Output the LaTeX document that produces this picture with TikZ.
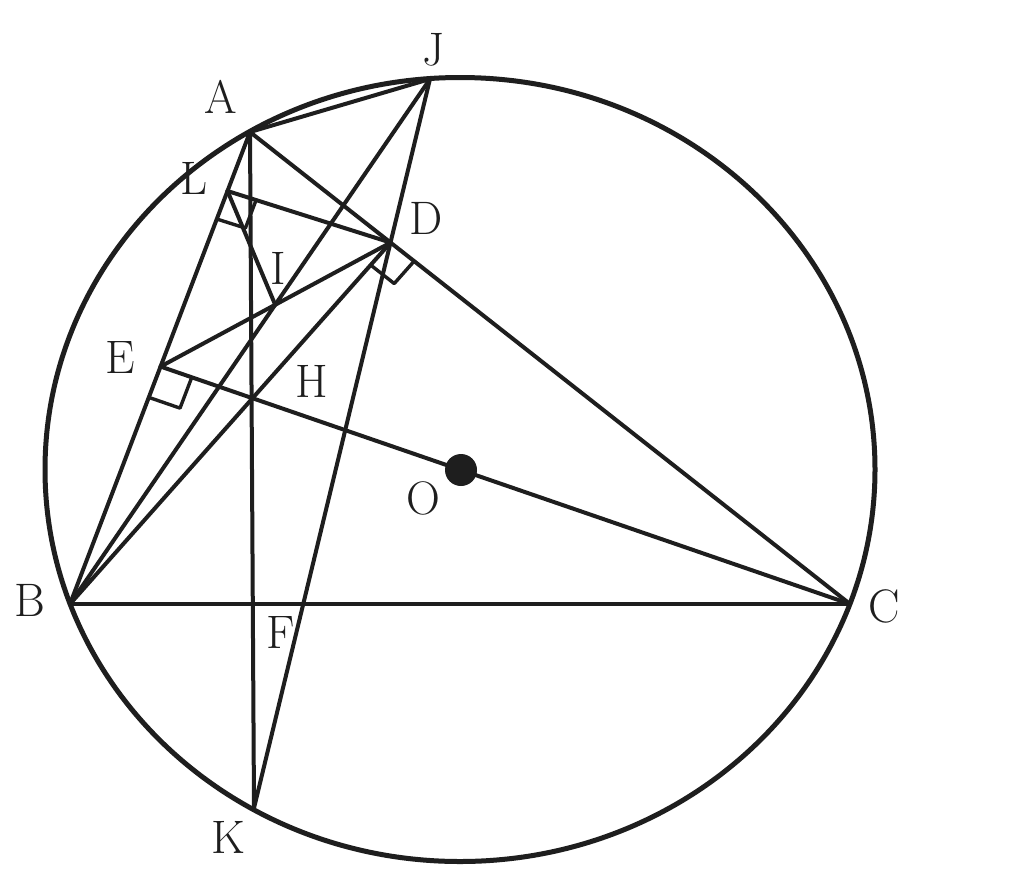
\documentclass[tikz,border=0pt]{standalone}
\usetikzlibrary{calc}
\definecolor{ink}{RGB}{30,30,30}
\begin{document}
\begin{tikzpicture}[x=1pt,y=-1pt,line join=round,line cap=round,
  seg/.style={draw=ink,line width=4pt},
  rtmark/.style={draw=ink,line width=3.4pt},
  lbl/.style={inner sep=0pt,text=ink,font=\fontsize{47}{47}\selectfont}]
\useasboundingbox (0,0) rectangle (1024,879);
\fill[white] (0,0) rectangle (1024,879);
% points
\coordinate (A) at (250,132);
\coordinate (J) at (430,79);
\coordinate (B) at (70,604);
\coordinate (C) at (850,604);
\coordinate (K) at (254,808);
\coordinate (O) at (461,470);
\coordinate (D) at (intersection of A--C and J--K);
\coordinate (E) at (intersection of A--B and C--O);
\coordinate (H) at (intersection of A--K and C--E);
\coordinate (I) at (intersection of B--J and D--E);
\coordinate (L) at ($(A)!0.125!(B)$);
% circle
\draw[ink,line width=5pt] (460,469.5) ellipse [x radius=415, y radius=392];
% segments
\draw[seg] (A) -- (J);
\draw[seg] (A) -- (B);
\draw[seg] (A) -- (C);
\draw[seg] (B) -- (C);
\draw[seg] (A) -- (K);
\draw[seg] (J) -- (K);
\draw[seg] (J) -- (B);
\draw[seg] (B) -- (D);
\draw[seg] (C) -- (E);
\draw[seg] (D) -- (E);
\draw[seg] (D) -- (L);
\draw[seg] (L) -- (I);
% right angle marks
\coordinate (L1) at ($(L)!30pt!(D)$);
\coordinate (L2) at ($(L)!30pt!(B)$);
\draw[rtmark] (L1) -- ($(L1)+(L2)-(L)$) -- (L2);
\coordinate (D1) at ($(D)!30pt!(C)$);
\coordinate (D2) at ($(D)!30pt!(B)$);
\draw[rtmark] (D1) -- ($(D1)+(D2)-(D)$) -- (D2);
\coordinate (E1) at ($(E)!33pt!(C)$);
\coordinate (E2) at ($(E)!33pt!(B)$);
\draw[rtmark] (E1) -- ($(E1)+(E2)-(E)$) -- (E2);
% centre
\fill[ink] (O) circle [radius=16];
% labels
\node[lbl] (lA) at (221,97) {A};
\node[lbl] (lJ) at (434,50) {J};
\node[lbl] (lL) at (194,178) {L};
\node[lbl] (lD) at (426,218) {D};
\node[lbl] (lI) at (278,268) {I};
\node[lbl] (lE) at (120,357) {E};
\node[lbl] (lH) at (312,381) {H};
\node[lbl] (lO) at (423,498) {O};
\node[lbl] (lB) at (30,600) {B};
\node[lbl] (lF) at (281,632) {F};
\node[lbl] (lK) at (228,837) {K};
\node[lbl] (lC) at (884,606) {C};
\end{tikzpicture}
\end{document}
